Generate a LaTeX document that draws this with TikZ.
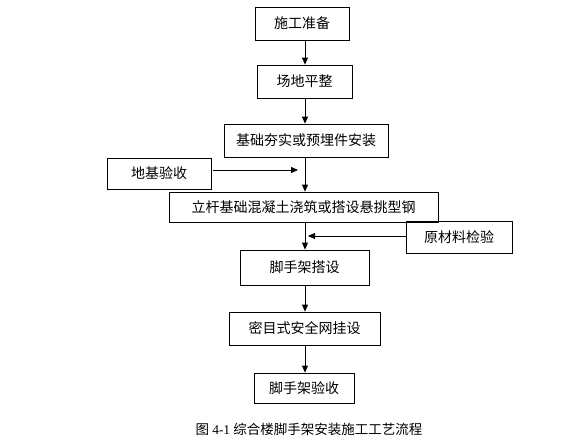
\documentclass[tikz,border=0pt]{standalone}
\usepackage{fontspec}
\usepackage{tikz}
\usetikzlibrary{arrows.meta}
\setmainfont{Noto Sans CJK SC}
\newfontfamily\capnum{Liberation Serif}

\begin{document}
\begin{tikzpicture}[x=1pt, y=-1pt,
    box/.style={draw, line width=0.8pt, inner sep=0pt, font=\fontsize{14pt}{16pt}\selectfont},
    arr/.style={line width=0.8pt, -{Triangle[length=7pt,width=6pt]}}]
          \useasboundingbox (0,0) rectangle (584,445);
          % main steps
          \node[box, minimum width=94pt, minimum height=33pt] (zhunbei) at (302, 23.5) {施工准备};
          \node[box, minimum width=95pt, minimum height=33pt] (pingzheng) at (304.5, 81.5) {场地平整};
          \node[box, minimum width=164pt, minimum height=33pt] (hangshi) at (306, 140.5) {基础夯实或预埋件安装};
          \node[box, minimum width=269pt, minimum height=30pt] (jiaozhu) at (303.5, 207) {立杆基础混凝土浇筑或搭设悬挑型钢};
          \node[box, minimum width=129pt, minimum height=35pt] (dashe) at (304.5, 267.5) {脚手架搭设};
          \node[box, minimum width=151pt, minimum height=33pt] (guashe) at (304.5, 328.5) {密目式安全网挂设};
          \node[box, minimum width=100pt, minimum height=30pt] (yanshou) at (304, 388) {脚手架验收};
          % side checks
          \node[box, minimum width=104pt, minimum height=31pt] (dijiyan) at (159, 173.5) {地基验收};
          \node[box, minimum width=106pt, minimum height=32pt] (cailiao) at (459, 237) {原材料检验};
          % caption
          \node[font=\fontsize{13.5pt}{16pt}\selectfont] (tuming) at (309, 429) {图 {\capnum 4-1} 综合楼脚手架安装施工工艺流程};
          % flow
          \coordinate (spine) at (305, 0);
          \draw[arr] (zhunbei.south -| spine) -- (pingzheng.north -| spine);
          \draw[arr] (pingzheng.south -| spine) -- (hangshi.north -| spine);
          \draw[arr] (hangshi.south -| spine) -- (jiaozhu.north -| spine);
          \draw[arr] (jiaozhu.south -| spine) -- (dashe.north -| spine);
          \draw[arr] (dashe.south -| spine) -- (guashe.north -| spine);
          \draw[arr] (guashe.south -| spine) -- (yanshou.north -| spine);
          \coordinate (dijiend) at (298, 170);
          \coordinate (cailiaoend) at (308, 236);
          \draw[arr] ([xshift=2pt]dijiyan.east |- dijiend) -- (dijiend);
          \draw[arr] (cailiao.west |- cailiaoend) -- (cailiaoend);
\end{tikzpicture}
\end{document}
